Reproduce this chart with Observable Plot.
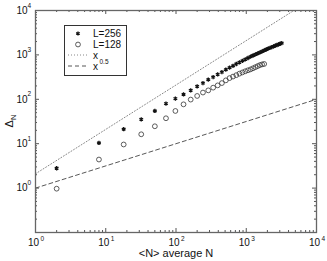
<!DOCTYPE html>
<html><head><meta charset="utf-8">
<script src="https://cdn.jsdelivr.net/npm/d3@7"></script>
<script src="https://cdn.jsdelivr.net/npm/@observablehq/plot@0.6"></script>
<style>body{margin:0;background:#fff;} svg{display:block;}</style>
</head><body><div id="chart"></div>
<script>
// L=256 series (stars)
const xL256 = [2,8,18,32,50,72,98,128,162,200,242,288,338,392,450,512,578,648,722,800,882,968,1058,1152,1250,1352,1458,1568,1682,1800,1922,2048,2178,2312,2450,2592,2738,2888,3042,3200];
const yL256 = [2.8,10.4,21.2,35.5,54.6,80,104,129,159,196,232,277,317,365,411,465,516,569,624,680,737,794,852,910,969,1028,1087,1145,1204,1264,1323,1381,1440,1498,1556,1613,1671,1728,1784,1841];
// L=128 series (open circles)
const xL128 = [2,8,18,32,50,72,98,128,162,200,242,288,338,392,450,512,578,648,722,800,882,968,1058,1152,1250,1352,1458,1568,1682,1800];
const yL128 = [0.97,4.4,9.6,16.3,24.7,37.4,54.6,77,98.5,119,142,159,183,206,232,267,300,325,350,378,403,428,450,472,500,530,560,590,612,625];
// reference lines
const refX = [1, 10000];
const slopeOneCoef = 2.1;
// ticks
const xTicks = [1,10,100,1000,10000];
const xTickExp = ["0","1","2","3","4"];
const yTicks = [1,10,100,1000,10000];
const yTickExp = ["0","1","2","3","4"];
const xDomain = [1, 10000];
const yDomain = [0.1, 10000];
const xLabel = "<N> average N";
const legendLabels = ["L=256", "L=128", "x", "x"];

const W = 327, H = 261;
const M = {top: 10, right: 11, bottom: 29, left: 35};
const innerW = W - M.left - M.right, innerH = H - M.top - M.bottom;
const FONT = "'Liberation Sans', Arial, sans-serif";

function minorsOf(domain) {
  const out = [];
  for (let p = Math.log10(domain[0]); p < Math.log10(domain[1]); p++)
    for (let m = 2; m <= 9; m++) out.push(m * Math.pow(10, p));
  return out;
}
const xMinor = minorsOf(xDomain), yMinor = minorsOf(yDomain);
const yMajorAll = [0.1, ...yTicks];
const tickColor = "#555";
const i256 = d3.range(xL256.length), i128 = d3.range(xL128.length);

const chart = Plot.plot({
  width: W, height: H,
  marginTop: M.top, marginRight: M.right, marginBottom: M.bottom, marginLeft: M.left,
  style: {fontFamily: FONT, background: "#fff"},
  x: {type: "log", domain: xDomain, axis: null},
  y: {type: "log", domain: yDomain, axis: null},
  marks: [
    Plot.line(refX, {x: d => d, y: d => slopeOneCoef * d, stroke: "#888", strokeWidth: 1, strokeDasharray: "1,2", clip: true}),
    Plot.line(refX, {x: d => d, y: d => Math.sqrt(d), stroke: "#444", strokeWidth: 0.9, strokeDasharray: "4,3", clip: true}),
    Plot.dot(i128, {x: i => xL128[i], y: i => yL128[i], r: 2.4, stroke: "#333", strokeWidth: 0.8, fill: "none"}),
    Plot.dot(i256, {x: i => xL256[i], y: i => yL256[i], symbol: "asterisk", r: 2.0, stroke: "#111", strokeWidth: 1.3}),
    Plot.tickX(xTicks, {x: d => d, insetTop: innerH - 4, stroke: tickColor}),
    Plot.tickX(xTicks, {x: d => d, insetBottom: innerH - 4, stroke: tickColor}),
    Plot.tickX(xMinor, {x: d => d, insetTop: innerH - 2, stroke: tickColor}),
    Plot.tickX(xMinor, {x: d => d, insetBottom: innerH - 2, stroke: tickColor}),
    Plot.tickY(yMajorAll, {y: d => d, insetRight: innerW - 4, stroke: tickColor}),
    Plot.tickY(yMajorAll, {y: d => d, insetLeft: innerW - 4, stroke: tickColor}),
    Plot.tickY(yMinor, {y: d => d, insetRight: innerW - 2, stroke: tickColor}),
    Plot.tickY(yMinor, {y: d => d, insetLeft: innerW - 2, stroke: tickColor}),
    Plot.frame({stroke: "#666", strokeWidth: 1.3}),
    Plot.text(xTicks, {x: d => d, frameAnchor: "bottom", dy: 13, dx: -2, text: () => "10", fontSize: 10, fill: "#111"}),
    Plot.text(xTicks, {x: d => d, frameAnchor: "bottom", dy: 8, dx: 5, text: (d, i) => xTickExp[i], fontSize: 6.5, textAnchor: "start", fill: "#111"}),
    Plot.text(yTicks, {y: d => d, frameAnchor: "left", dx: -8, text: () => "10", fontSize: 10, textAnchor: "end", fill: "#111"}),
    Plot.text(yTicks, {y: d => d, frameAnchor: "left", dx: -8, dy: -5, text: (d, i) => yTickExp[i], fontSize: 6.5, textAnchor: "start", fill: "#111"}),
    Plot.text([xLabel], {frameAnchor: "bottom", dy: 24, dx: 0, text: d => d, fontSize: 11, fill: "#111"})
  ]
});

const svg = d3.select(chart);
const yl = svg.append("text")
  .attr("transform", `translate(13,${M.top + innerH * 0.5}) rotate(-90)`)
  .attr("text-anchor", "middle")
  .attr("font-family", FONT).attr("font-size", 11).attr("fill", "#111");
yl.append("tspan").text("Δ");
yl.append("tspan").attr("font-size", 7.5).attr("dy", 3).text("N");

const lg = svg.append("g").attr("font-family", FONT).attr("fill", "#111").attr("text-anchor", "start");
lg.append("rect").attr("x", 64.5).attr("y", 25.5).attr("width", 62).attr("height", 50)
  .attr("fill", "#fff").attr("stroke", "#333").attr("stroke-width", 1);
const rows = [33.5, 44.5, 55, 66];
lg.append("path").attr("d", d3.symbol(d3.symbolAsterisk, 12)())
  .attr("transform", `translate(78,${rows[0]})`).attr("stroke", "#111").attr("stroke-width", 1.3);
lg.append("circle").attr("cx", 78).attr("cy", rows[1]).attr("r", 2.4)
  .attr("fill", "none").attr("stroke", "#333").attr("stroke-width", 0.8);
lg.append("line").attr("x1", 68).attr("x2", 88).attr("y1", rows[2]).attr("y2", rows[2])
  .attr("stroke", "#888").attr("stroke-dasharray", "1,2");
lg.append("line").attr("x1", 68).attr("x2", 89).attr("y1", rows[3]).attr("y2", rows[3])
  .attr("stroke", "#444").attr("stroke-width", 0.9).attr("stroke-dasharray", "4,3");
rows.forEach((ry, i) => {
  lg.append("text").attr("x", 93).attr("y", ry).attr("dy", "0.35em")
    .attr("text-anchor", "start").attr("font-size", 10).text(legendLabels[i]);
});
lg.append("text").attr("x", 99.5).attr("y", rows[3] - 2.5).attr("text-anchor", "start")
  .attr("font-size", 6.5).text("0.5");

document.getElementById("chart").appendChild(chart);
</script>
</body></html>
